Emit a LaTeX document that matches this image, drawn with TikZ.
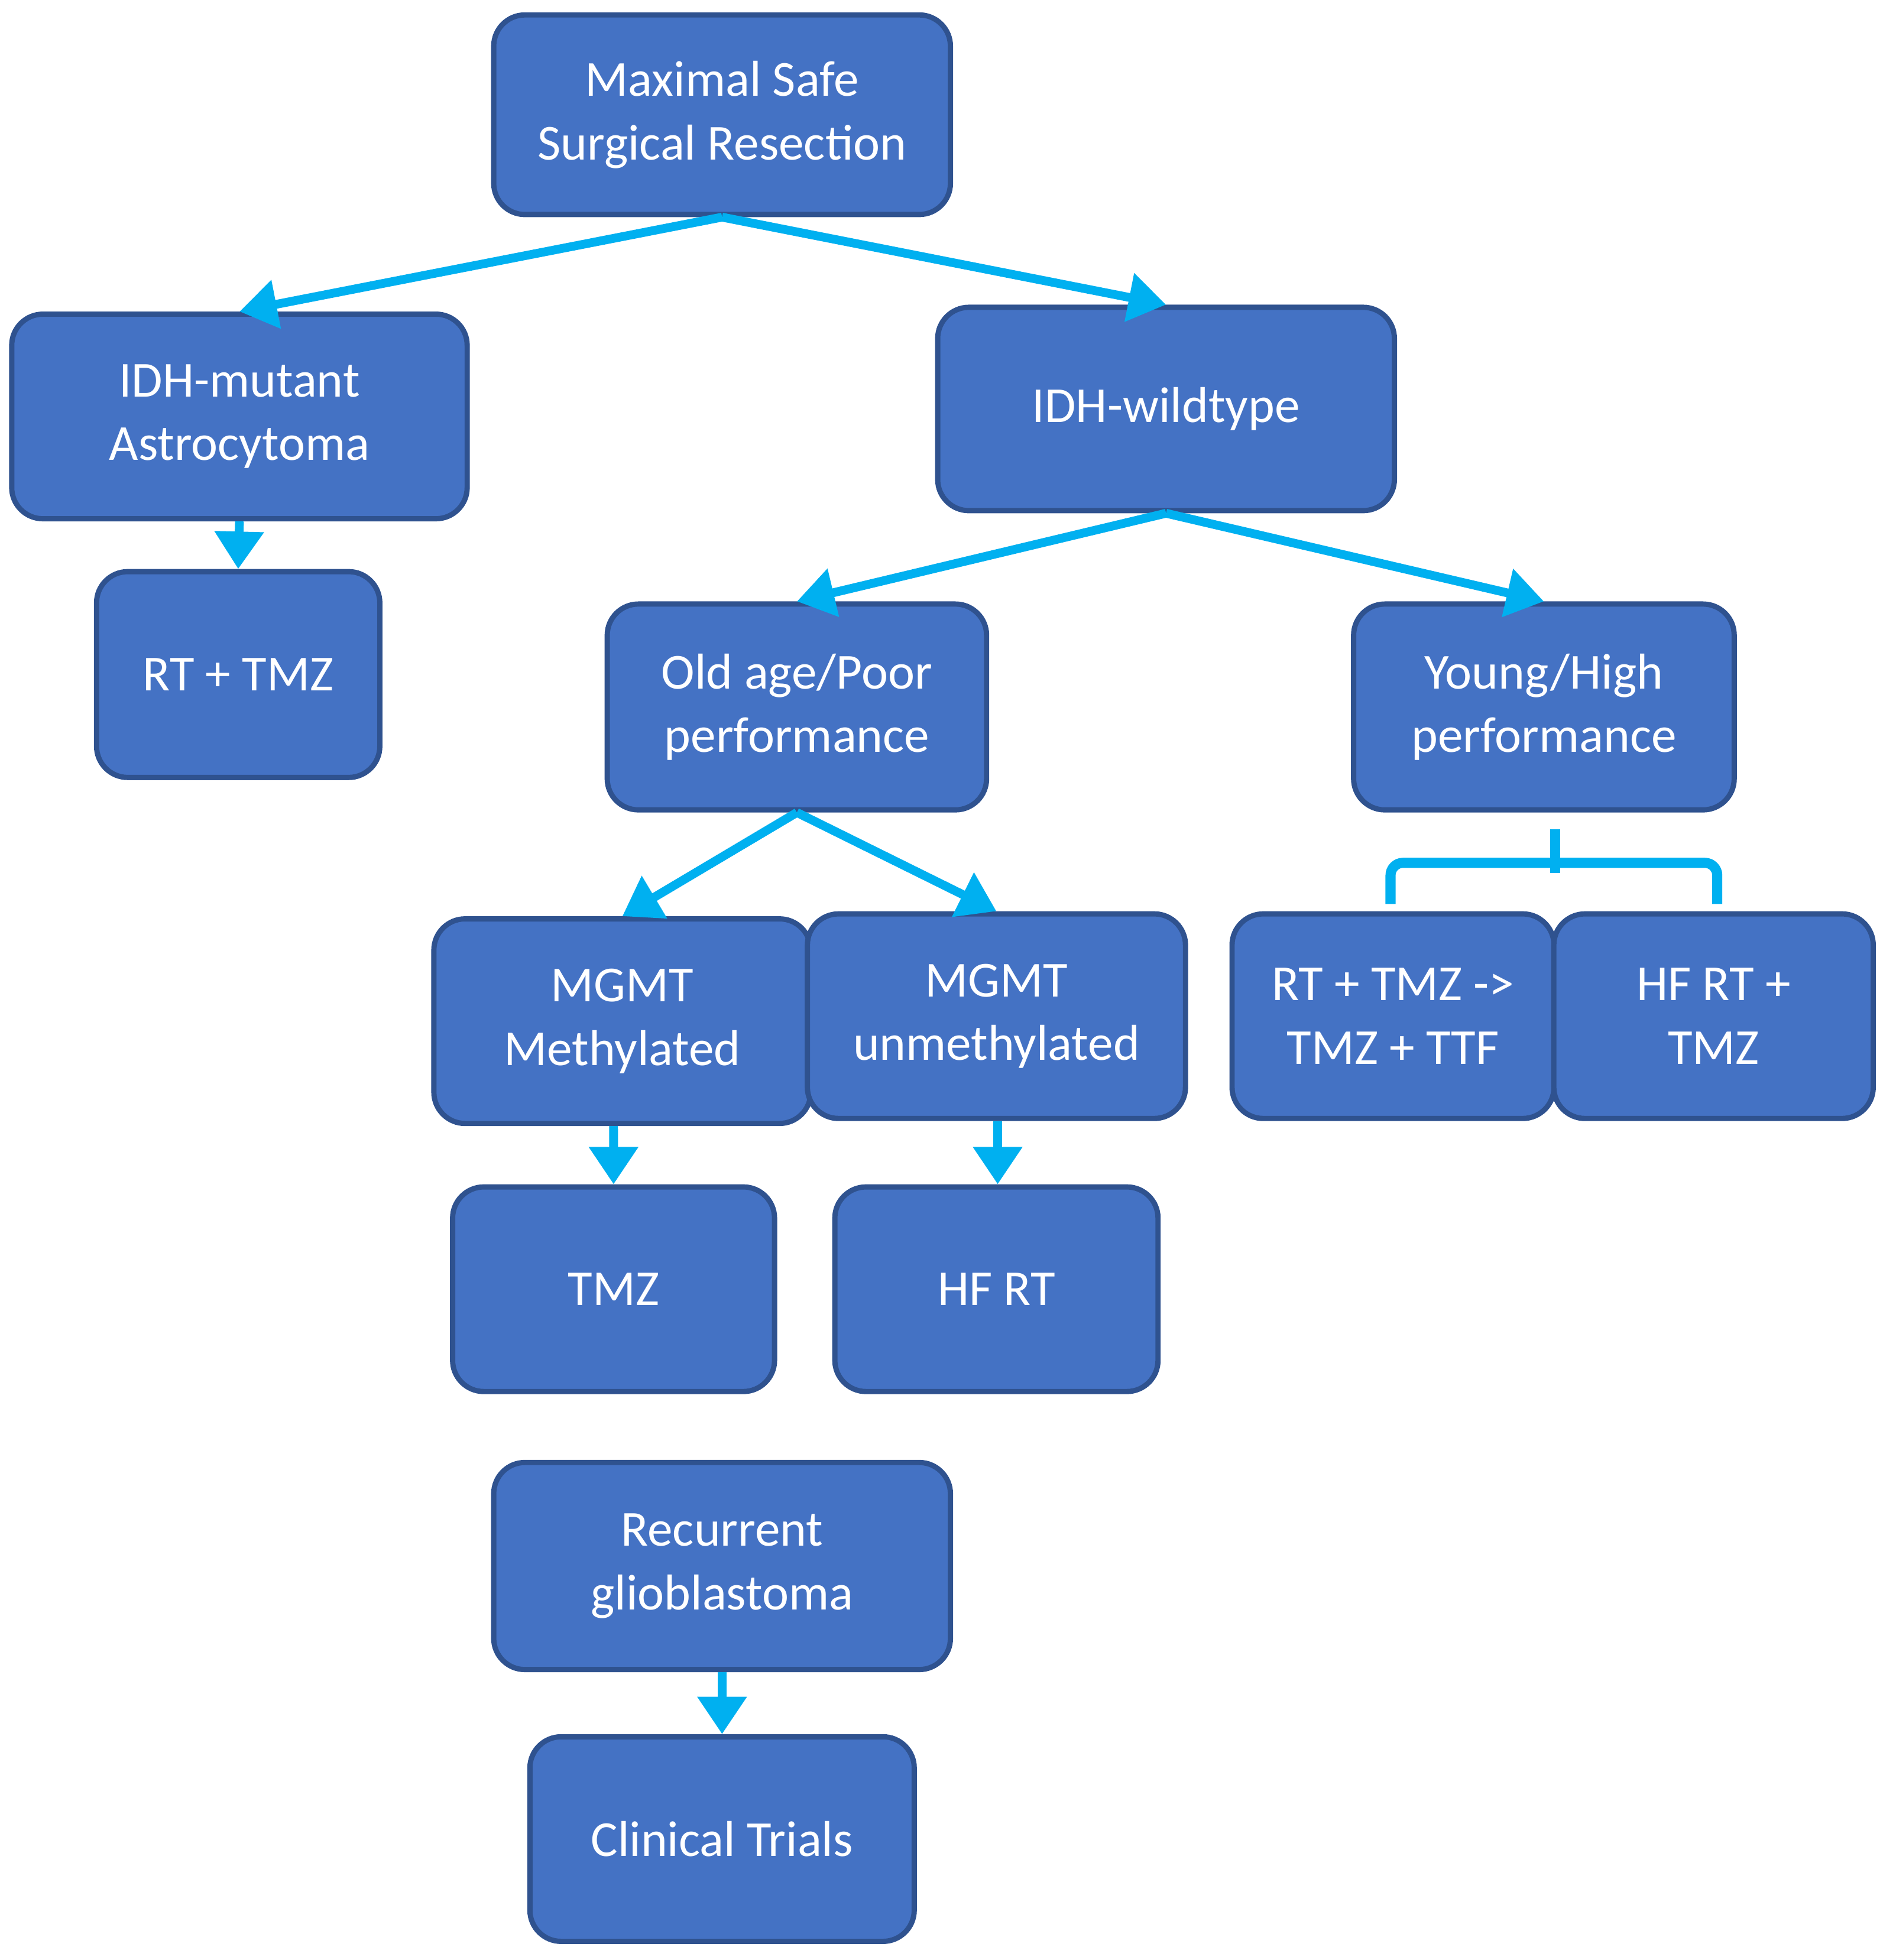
\documentclass[tikz,border=0pt]{standalone}
\usepackage{fontspec}
\setmainfont{Carlito}
\usetikzlibrary{arrows.meta}
\definecolor{boxblue}{RGB}{68,114,196}
\definecolor{boxline}{RGB}{47,82,143}
\definecolor{arrowcyan}{RGB}{0,176,240}
\begin{document}
\begin{tikzpicture}[x=0.01cm,y=-0.01cm,
	box/.style={draw=boxline,line width=1.2pt,fill=boxblue,rounded corners=0.25cm,
		text=white,align=center,font=\fontsize{11.5}{14.5}\selectfont,inner sep=0pt},
	flow/.style={draw=arrowcyan,line width=2pt,-{Triangle[width=0.38cm,length=0.3cm]}}]
	\useasboundingbox (0,0) rectangle (1520,1572);

	\node[box,minimum width=3.66cm,minimum height=1.60cm] (msr) at (579,92)   {Maximal Safe\\Surgical Resection};
	\node[box,minimum width=3.65cm,minimum height=1.64cm] (idhm) at (192,334) {IDH-mutant\\Astrocytoma};
	\node[box,minimum width=3.66cm,minimum height=1.63cm] (idhw) at (935,328) {IDH-wildtype};
	\node[box,minimum width=2.27cm,minimum height=1.65cm] (rttmz) at (191,541) {RT + TMZ};
	\node[box,minimum width=3.04cm,minimum height=1.65cm] (old) at (639,567)  {Old age/Poor\\performance};
	\node[box,minimum width=3.05cm,minimum height=1.65cm] (young) at (1238,567) {Young/High\\performance};
	\node[box,minimum width=3.02cm,minimum height=1.64cm] (meth) at (499,819)  {MGMT\\Methylated};
	\node[box,minimum width=3.03cm,minimum height=1.64cm] (unmeth) at (799,815) {MGMT\\unmethylated};
	\node[box,minimum width=2.58cm,minimum height=1.64cm] (rtttf) at (1117,815) {RT + TMZ ->\\TMZ + TTF};
	\node[box,minimum width=2.56cm,minimum height=1.64cm] (hfrttmz) at (1374,815) {HF RT +\\TMZ};
	\node[box,minimum width=2.58cm,minimum height=1.64cm] (tmz) at (492,1034)  {TMZ};
	\node[box,minimum width=2.59cm,minimum height=1.64cm] (hfrt) at (799,1034) {HF RT};
	\node[box,minimum width=3.66cm,minimum height=1.66cm] (recur) at (579,1256) {Recurrent\\glioblastoma};
	\node[box,minimum width=3.08cm,minimum height=1.64cm] (trials) at (579,1475) {Clinical Trials};

	\draw[flow] (msr.south) -- (idhm.north);
	\draw[flow] (msr.south) -- (idhw.north);
	\draw[flow] (idhm.south) -- (rttmz.north);
	\draw[flow] (idhw.south) -- (old.north);
	\draw[flow] (idhw.south) -- (young.north);
	\draw[flow] (old.south) -- (meth.north);
	\draw[flow] (old.south) -- (unmeth.north);
	\draw[flow] ([xshift=-0.07cm]meth.south) -- (tmz.north);
	\draw[flow] ([xshift=0.01cm]unmeth.south) -- ([xshift=0.01cm]hfrt.north);
	\draw[flow] (recur.south) -- (trials.north);

	% bracket
	\coordinate (brtop) at (1247,665);
	\draw[arrowcyan,line width=2.3pt] (brtop) -- (1247,700);
	\draw[arrowcyan,line width=2.3pt,rounded corners=0.1cm]
		(1115,725) -- (1115,692) -- (1377,692) -- (1377,725);
\end{tikzpicture}
\end{document}
